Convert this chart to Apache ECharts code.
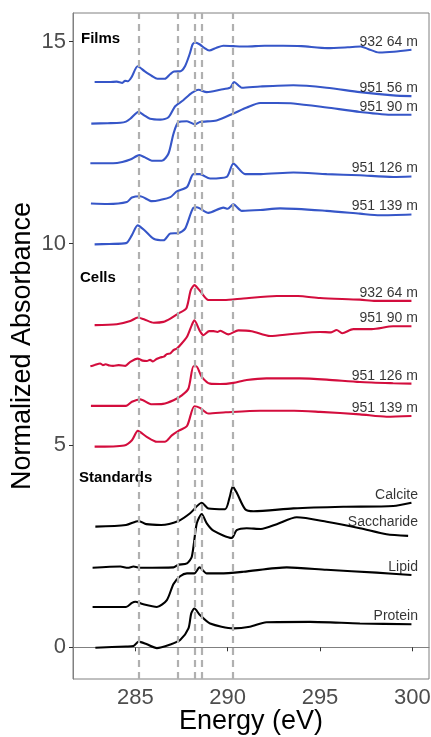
<!DOCTYPE html>
<html>
<head>
<meta charset="utf-8">
<title>C NEXAFS spectra</title>
<script src="https://cdn.jsdelivr.net/npm/echarts@6/dist/echarts.min.js"></script>
<style>
  html, body { margin: 0; padding: 0; background: #fff; }
  #chart { width: 431px; height: 737px; }
</style>
</head>
<body>
<div id="chart"></div>
<script>
// energy (eV), normalized absorbance (already offset per spectrum)
const film932_64 = [[282.8, 14.0], [283.6, 14.0], [284.0, 14.01], [284.3, 13.98], [284.45, 14.03], [284.6, 14.02], [284.8, 14.12], [285.13, 14.39], [285.5, 14.27], [285.9, 14.15], [286.2, 14.08], [286.6, 14.08], [286.9, 14.2], [287.1, 14.26], [287.45, 14.27], [287.7, 14.4], [287.95, 14.7], [288.1, 14.93], [288.24, 14.98], [288.5, 14.93], [288.75, 14.84], [289.0, 14.78], [289.4, 14.85], [289.77, 14.9], [290.3, 14.89], [291, 14.88], [292, 14.9], [293, 14.9], [294, 14.89], [295.4, 14.84], [296.5, 14.86], [297.2, 14.88], [297.6, 14.82], [298.2, 14.73], [299, 14.75], [299.95, 14.8]]
const film951_56 = [[282.62, 12.97], [283.5, 12.98], [284.2, 12.99], [284.5, 13.02], [284.73, 13.09], [285.18, 13.26], [285.5, 13.17], [285.8, 13.09], [286.35, 13.07], [286.8, 13.13], [287.16, 13.4], [287.6, 13.55], [288.06, 13.73], [288.42, 13.81], [288.87, 13.75], [289.6, 13.81], [290.14, 13.86], [290.35, 14.0], [290.77, 13.86], [291.76, 13.89], [293.56, 13.92], [295.36, 13.86], [297.16, 13.75], [298.96, 13.67], [299.95, 13.65]]
const film951_90 = [[282.57, 11.99], [283.3, 11.99], [283.8, 11.99], [284.3, 12.02], [284.73, 12.08], [285.22, 12.19], [285.5, 12.14], [285.9, 12.05], [286.44, 12.05], [286.8, 12.23], [287.07, 12.72], [287.34, 13.01], [287.8, 13.03], [288.24, 12.95], [288.5, 13.01], [289.4, 13.05], [290.3, 13.22], [291.04, 13.37], [291.76, 13.48], [292.66, 13.48], [293.56, 13.47], [295.36, 13.37], [297.16, 13.26], [298.96, 13.19], [299.95, 13.19]]
const film951_126 = [[282.6, 10.99], [283.5, 10.98], [284.55, 11.03], [284.82, 11.14], [285.27, 11.17], [285.9, 11.05], [286.35, 11.08], [286.9, 11.15], [287.25, 11.29], [287.8, 11.4], [288.15, 11.72], [288.5, 11.72], [289.05, 11.61], [289.95, 11.65], [290.31, 11.98], [290.95, 11.72], [291.8, 11.72], [293.56, 11.76], [295.36, 11.72], [297.16, 11.69], [298.96, 11.65], [299.95, 11.66]]
const film951_139 = [[282.8, 9.98], [283.6, 9.99], [284.5, 10.01], [284.82, 10.21], [285.13, 10.45], [285.5, 10.33], [286.0, 10.12], [286.53, 10.08], [286.9, 10.25], [287.34, 10.26], [287.7, 10.37], [288.15, 10.89], [288.33, 10.9], [288.96, 10.76], [289.77, 10.89], [290.0, 10.86], [290.31, 10.97], [290.77, 10.81], [291.76, 10.83], [292.84, 10.87], [295.36, 10.81], [297.16, 10.74], [298.24, 10.7], [299.95, 10.72]]

const cell932_64 = [[282.8, 7.98], [284.0, 8.0], [284.73, 8.08], [285.14, 8.17], [285.5, 8.12], [286.0, 8.04], [286.53, 8.06], [286.9, 8.14], [287.34, 8.27], [287.76, 8.39], [288.0, 8.84], [288.2, 8.97], [288.5, 8.83], [288.96, 8.6], [289.8, 8.6], [290.85, 8.64], [292.66, 8.7], [293.8, 8.7], [295.0, 8.65], [297.16, 8.61], [298.0, 8.58], [299.95, 8.58]]
const cell951_90 = [[282.57, 6.96], [282.8, 6.99], [283.1, 7.03], [283.25, 6.99], [283.4, 7.01], [283.6, 6.98], [283.8, 6.97], [284.1, 6.99], [284.46, 6.97], [284.73, 7.07], [285.13, 7.15], [285.4, 7.1], [285.63, 7.09], [285.8, 7.12], [285.95, 7.08], [286.15, 7.14], [286.35, 7.18], [286.55, 7.2], [286.71, 7.26], [286.9, 7.28], [287.07, 7.36], [287.25, 7.4], [287.43, 7.48], [287.8, 7.69], [288.06, 7.98], [288.2, 8.1], [288.48, 7.85], [288.69, 7.73], [289.0, 7.83], [289.23, 7.83], [289.45, 7.81], [289.6, 7.84], [290.04, 7.75], [290.58, 7.85], [291.3, 7.83], [292.3, 7.71], [293.5, 7.76], [295.0, 7.81], [295.6, 7.8], [295.9, 7.86], [296.2, 7.78], [296.8, 7.88], [297.8, 7.88], [298.96, 7.95], [299.95, 7.95]]
const cell951_126 = [[282.6, 5.98], [284.5, 5.98], [284.82, 6.08], [285.27, 6.14], [285.9, 6.02], [286.5, 6.03], [287.07, 6.12], [287.52, 6.24], [287.88, 6.41], [288.15, 6.96], [288.3, 6.96], [288.6, 6.7], [289.05, 6.53], [289.6, 6.52], [290.31, 6.55], [291.03, 6.62], [292.1, 6.66], [293.9, 6.66], [295.36, 6.63], [297.16, 6.57], [298.96, 6.54], [299.95, 6.53]]
const cell951_139 = [[282.8, 4.97], [284.4, 5.0], [284.82, 5.13], [285.14, 5.36], [285.6, 5.22], [286.17, 5.09], [286.6, 5.09], [286.98, 5.25], [287.34, 5.36], [287.8, 5.48], [288.2, 5.97], [288.5, 5.93], [288.96, 5.79], [289.9, 5.82], [291.76, 5.86], [293.6, 5.86], [295.0, 5.83], [297.16, 5.77], [298.6, 5.71], [299.95, 5.73]]

const calcite = [[282.84, 2.99], [284.5, 3.03], [285.18, 3.13], [285.6, 3.05], [286.4, 3.03], [287.34, 3.13], [287.97, 3.32], [288.6, 3.58], [288.96, 3.44], [289.86, 3.42], [290.1, 3.7], [290.28, 3.98], [290.5, 3.82], [290.95, 3.42], [291.4, 3.37], [293.56, 3.44], [296.26, 3.48], [298.96, 3.5], [299.95, 3.58]]
const saccharide = [[282.69, 1.97], [284.19, 2.0], [284.6, 1.97], [284.9, 2.0], [285.3, 1.97], [287.07, 1.98], [287.3, 2.04], [287.8, 2.08], [288.06, 2.24], [288.33, 3.07], [288.6, 3.3], [288.87, 3.07], [289.23, 2.89], [290.22, 2.71], [290.49, 2.9], [291.03, 2.95], [291.8, 2.93], [292.66, 3.05], [293.74, 3.22], [295.36, 3.11], [297.16, 2.95], [298.6, 2.8], [299.77, 2.76]]
const lipid = [[282.69, 1.0], [284.5, 1.0], [284.82, 1.1], [285.0, 1.13], [285.4, 1.07], [286.17, 1.0], [286.71, 1.17], [287.07, 1.57], [287.43, 1.76], [287.8, 1.83], [288.2, 1.83], [288.48, 1.98], [288.87, 1.83], [289.6, 1.83], [290.85, 1.87], [293.2, 1.98], [295.36, 1.92], [298.06, 1.85], [299.95, 1.79]]
const protein = [[282.84, -0.01], [284.5, 0.02], [284.9, 0.03], [285.18, 0.14], [285.6, 0.08], [286.17, -0.02], [286.9, 0.07], [287.43, 0.18], [287.88, 0.47], [288.03, 0.84], [288.2, 0.96], [288.5, 0.8], [289.05, 0.59], [290.31, 0.47], [291.2, 0.51], [292.1, 0.62], [294.46, 0.63], [297.16, 0.59], [299.95, 0.57]]

// reference energies (dashed lines)
const peakEnergies = [285.2, 287.3, 288.2, 288.6, 290.3]
const xTicks = [285, 290, 295, 300]
const yTicks = [0, 5, 10, 15]

const spectra = [
  { name: '932 64 m', group: 'film', data: film932_64 },
  { name: '951 56 m', group: 'film', data: film951_56 },
  { name: '951 90 m', group: 'film', data: film951_90 },
  { name: '951 126 m', group: 'film', data: film951_126 },
  { name: '951 139 m', group: 'film', data: film951_139 },
  { name: '932 64 m', group: 'cell', data: cell932_64 },
  { name: '951 90 m', group: 'cell', data: cell951_90 },
  { name: '951 126 m', group: 'cell', data: cell951_126 },
  { name: '951 139 m', group: 'cell', data: cell951_139 },
  { name: 'Calcite', group: 'std', data: calcite },
  { name: 'Saccharide', group: 'std', data: saccharide },
  { name: 'Lipid', group: 'std', data: lipid },
  { name: 'Protein', group: 'std', data: protein }
]

const colors = { film: '#3656c8', cell: '#d30d3d', std: '#000000' }
const labelX = 300.3
const FONT = 'Liberation Sans, Arial, sans-serif'

const chart = echarts.init(document.getElementById('chart'), null, { renderer: 'canvas' })

const series = []
spectra.forEach(s => {
  series.push({
    name: s.group + ' ' + s.name,
    type: 'line',
    data: s.data,
    smooth: 0.25,
    showSymbol: false,
    silent: true,
    lineStyle: { color: colors[s.group], width: 2.1 },
    z: 3
  })
})

// sample names, right aligned just above the end of each curve
series.push({
  name: 'names',
  type: 'scatter',
  symbolSize: 0,
  silent: true,
  z: 4,
  data: spectra.map(s => {
    const last = s.data[s.data.length - 1]
    return {
      value: [labelX, last[1]],
      label: {
        show: true,
        formatter: s.name,
        position: 'left',
        distance: 0,
        offset: [0, s.name === 'Saccharide' ? -14 : -8],
        color: '#000',
        fontSize: 14,
        fontFamily: FONT
      }
    }
  })
})

// dashed reference lines
series.push({
  name: 'peaks',
  type: 'line',
  data: [],
  silent: true,
  markLine: {
    symbol: 'none',
    silent: true,
    label: { show: false },
    lineStyle: { color: '#b0b0b0', type: [7, 5], width: 2.2, opacity: 1 },
    emphasis: { disabled: true },
    data: peakEnergies.map(e => ({ xAxis: e }))
  },
  z: 1
})

chart.setOption({
  animation: false,
  backgroundColor: '#fff',
  textStyle: { fontFamily: FONT },
  grid: {
    left: 73,
    right: 2,
    top: 13,
    bottom: 58,
    outerBoundsMode: 'none',
    show: true,
    borderColor: '#808080',
    borderWidth: 1
  },
  xAxis: {
    type: 'value',
    min: 281.63,
    max: 300.9,
    name: 'Energy (eV)',
    nameLocation: 'middle',
    nameGap: 29,
    nameMoveOverlap: false,
    nameTextStyle: { fontSize: 27, color: '#000' },
    axisLine: { lineStyle: { color: '#808080' } },
    axisTick: { show: true, length: 4, customValues: xTicks, lineStyle: { color: '#333' } },
    axisLabel: { customValues: xTicks, fontSize: 22, color: '#4d4d4d', margin: 8 },
    splitLine: { show: false }
  },
  yAxis: {
    type: 'value',
    min: -0.785,
    max: 15.71,
    name: 'Normalized Absorbance',
    nameLocation: 'middle',
    nameGap: 37,
    nameMoveOverlap: false,
    nameTextStyle: { fontSize: 27, color: '#000' },
    axisLine: { show: true, lineStyle: { color: '#808080' } },
    axisTick: { show: true, length: 4, customValues: yTicks, lineStyle: { color: '#333' } },
    axisLabel: { customValues: yTicks, fontSize: 22, color: '#4d4d4d', margin: 7 },
    splitLine: { show: false }
  },
  graphic: [
    { type: 'text', left: 81, top: 31, style: { text: 'Films', font: 'bold 15px ' + FONT, fill: '#000' } },
    { type: 'text', left: 80, top: 270, style: { text: 'Cells', font: 'bold 15px ' + FONT, fill: '#000' } },
    { type: 'text', left: 79, top: 470, style: { text: 'Standards', font: 'bold 15px ' + FONT, fill: '#000' } }
  ],
  series: series
})
</script>
</body>
</html>
